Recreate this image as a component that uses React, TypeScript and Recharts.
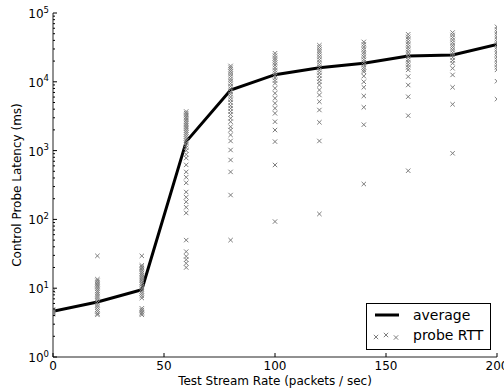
import React from 'react';
import { ComposedChart, Line, Scatter, XAxis, YAxis, Legend } from 'recharts';

// test stream rates (packets / sec)
const rates = [0, 20, 40, 60, 80, 100, 120, 140, 160, 180, 200];
// average control probe latency (ms) per rate
const avgLatency = [4.6, 6.3, 9.5, 1350, 7600, 12700, 16000, 18600, 23700, 24500, 35000];

// individual probe RTT samples (ms) per rate
const rtt0 = [9.2, 4.9, 4.7, 4.6, 4.5, 4.4, 4.3, 4.2];
const rtt20 = [29.5, 13.5, 12.8, 12.1, 11.5, 11.0, 10.4, 9.8, 9.2, 8.7, 8.2, 7.7, 7.2, 6.7, 6.2, 5.7, 5.3, 4.9, 4.6, 4.3, 4.1];
const rtt40 = [29.5, 21.5, 20.5, 19.5, 18.5, 17.5, 16.5, 15.5, 14.5, 13.6, 12.8, 12.0, 11.3, 10.5, 9.7, 9.0, 8.4, 7.8, 7.2, 5.1, 4.8, 4.5, 4.3, 4.1];
const rtt60 = [3700, 3500, 3300, 3100, 2950, 2800, 2650, 2500, 2350, 2200, 2080, 1950, 1830, 1720, 1600, 1500, 1400, 1300, 1200, 1100, 1000, 880, 780, 620, 490, 410, 340, 250, 210, 180, 150, 124, 50, 34, 29, 26, 23, 20];
const rtt80 = [17000, 16000, 15000, 14000, 13000, 12000, 11000, 10200, 9400, 8600, 7900, 7200, 6600, 6000, 5500, 5000, 4500, 4100, 3700, 3350, 2950, 2630, 2220, 1990, 1690, 1380, 1020, 730, 490, 226, 50];
const rtt100 = [26000, 24000, 22000, 20500, 19000, 17500, 16000, 14700, 13500, 12400, 11400, 10400, 9500, 8050, 6810, 5760, 4870, 4120, 3480, 2630, 1990, 1350, 618, 93];
const rtt120 = [34000, 31500, 29000, 27000, 25000, 23000, 21000, 19300, 17700, 16200, 14800, 13500, 12300, 11100, 10000, 8980, 7600, 6430, 5140, 3890, 2580, 1380, 120];
const rtt140 = [38000, 35000, 32000, 29500, 27000, 25000, 23000, 21000, 19300, 17700, 16200, 15000, 14000, 12100, 10000, 8320, 6220, 4260, 2380, 327];
const rtt160 = [49000, 45000, 41500, 38000, 35000, 32000, 29500, 27000, 25000, 23000, 21000, 19300, 17700, 16200, 14900, 11900, 8980, 6070, 3220, 510];
const rtt180 = [52000, 48000, 44000, 40500, 37000, 34000, 31500, 29000, 26500, 24500, 22500, 20500, 18600, 15700, 12600, 8320, 4710, 914];
const rtt200 = [63000, 58000, 53000, 49000, 45000, 41500, 38000, 35000, 32000, 29500, 27000, 25000, 23000, 21000, 19300, 17700, 16200, 14900, 10200, 5600];
const rttByRate = [rtt0, rtt20, rtt40, rtt60, rtt80, rtt100, rtt120, rtt140, rtt160, rtt180, rtt200];

const xTicks = [0, 50, 100, 150, 200];
const yMajor = [1, 10, 100, 1000, 10000, 100000];
const yExp = ['0', '1', '2', '3', '4', '5'];
const minorSteps = [2, 3, 4, 5, 6, 7, 8, 9];
const yTicks = [...yMajor, ...yMajor.slice(0, -1).flatMap((m) => minorSteps.map((s) => m * s))].sort((a, b) => a - b);

const avgData = rates.map((x, i) => ({ x, y: avgLatency[i] }));
const rttData = rates.flatMap((x, i) => rttByRate[i].map((y) => ({ x, y })));

const FONT = '"DejaVu Sans", sans-serif';
const FRAME = '#222';

function LeftTick({ x, y, payload }: any) {
    const i = yMajor.indexOf(payload.value);
    return (
        <g>
            <line x1={x} x2={x + (i >= 0 ? 4 : 2)} y1={y} y2={y} stroke="#000" />
            {i >= 0 && (
                <text x={x - 4} y={y + 5} textAnchor="end" fontSize={12} fontFamily={FONT} fill="#000">
                    10<tspan dy={-5.5} fontSize={8.5}>{yExp[i]}</tspan>
                </text>
            )}
        </g>
    );
}

function RightTick({ x, y, payload }: any) {
    const major = yMajor.includes(payload.value);
    return <line x1={x} x2={x - (major ? 4 : 2)} y1={y} y2={y} stroke="#000" />;
}

function BottomTick({ x, y, payload }: any) {
    return (
        <g>
            <line x1={x} x2={x} y1={y} y2={y - 4} stroke="#000" />
            <text x={x} y={y + 13} textAnchor="middle" fontSize={12} fontFamily={FONT} fill="#000">{payload.value}</text>
        </g>
    );
}

function TopTick({ x, y }: any) {
    return <line x1={x} x2={x} y1={y} y2={y + 4} stroke="#000" />;
}

function XMark({ cx, cy }: any) {
    const d = 2.2;
    return (
        <path d={`M${cx - d},${cy - d}L${cx + d},${cy + d}M${cx - d},${cy + d}L${cx + d},${cy - d}`}
            stroke="#7d7d7d" strokeWidth={1} fill="none" />
    );
}

function XLabel({ viewBox }: any) {
    return (
        <text x={viewBox.x + viewBox.width / 2} y={viewBox.y + 28} textAnchor="middle" fontSize={12} fontFamily={FONT} fill="#000">
            Test Stream Rate (packets / sec)
        </text>
    );
}

function YLabel({ viewBox }: any) {
    const cx = viewBox.x + 17;
    const cy = viewBox.y + viewBox.height / 2;
    return (
        <text x={cx} y={cy} transform={`rotate(-90, ${cx}, ${cy})`} textAnchor="middle" dominantBaseline="central"
            fontSize={12} fontFamily={FONT} fill="#000">
            Control Probe Latency (ms)
        </text>
    );
}

function LegendBox() {
    const crosses = [[10, 34], [20, 32], [30, 34.5]];
    return (
        <svg width={126} height={48} style={{ display: 'block' }}>
            <rect x={0.5} y={0.5} width={124} height={46} fill="#fff" stroke="#000" />
            <line x1={9} x2={33} y1={12} y2={12} stroke="#000" strokeWidth={3} />
            <text x={47} y={17} fontSize={14} fontFamily={FONT} fill="#000">average</text>
            {crosses.map(([cx, cy], i) => <XMark key={i} cx={cx} cy={cy} />)}
            <text x={47} y={37} fontSize={14} fontFamily={FONT} fill="#000">probe RTT</text>
        </svg>
    );
}

export default function App() {
    return (
        <div style={{ position: 'absolute', left: 0, top: 0, background: '#fff' }}>
            <ComposedChart width={504} height={391} margin={{ top: 13, right: 7, bottom: 0, left: 0 }}>
                <XAxis xAxisId="b" dataKey="x" type="number" domain={[0, 200]} ticks={xTicks} allowDataOverflow
                    height={34} tickSize={0} tickMargin={0} interval={0} tickLine={false}
                    axisLine={{ stroke: FRAME }} tick={<BottomTick />} label={<XLabel />} />
                <XAxis xAxisId="t" orientation="top" type="number" domain={[0, 200]} ticks={xTicks} allowDataOverflow
                    height={0} tickSize={0} tickMargin={0} interval={0} tickLine={false}
                    axisLine={{ stroke: FRAME }} tick={<TopTick />} />
                <YAxis yAxisId="l" dataKey="y" type="number" scale="log" domain={[1, 100000]} ticks={yTicks} allowDataOverflow
                    width={53} tickSize={0} tickMargin={0} interval={0} tickLine={false}
                    axisLine={{ stroke: FRAME }} tick={<LeftTick />} label={<YLabel />} />
                <YAxis yAxisId="r" orientation="right" type="number" scale="log" domain={[1, 100000]} ticks={yTicks} allowDataOverflow
                    width={0} tickSize={0} tickMargin={0} interval={0} tickLine={false}
                    axisLine={{ stroke: FRAME }} tick={<RightTick />} />
                <Legend layout="horizontal" verticalAlign="middle" align="center" content={<LegendBox />}
                    wrapperStyle={{ left: 366, top: 303, width: 126, height: 48 }} />
                <Scatter xAxisId="b" yAxisId="l" data={rttData} shape={<XMark />} isAnimationActive={false} />
                <Line xAxisId="b" yAxisId="l" data={avgData} dataKey="y" type="linear" stroke="#000" strokeWidth={3}
                    dot={false} activeDot={false} isAnimationActive={false} />
            </ComposedChart>
        </div>
    );
}
